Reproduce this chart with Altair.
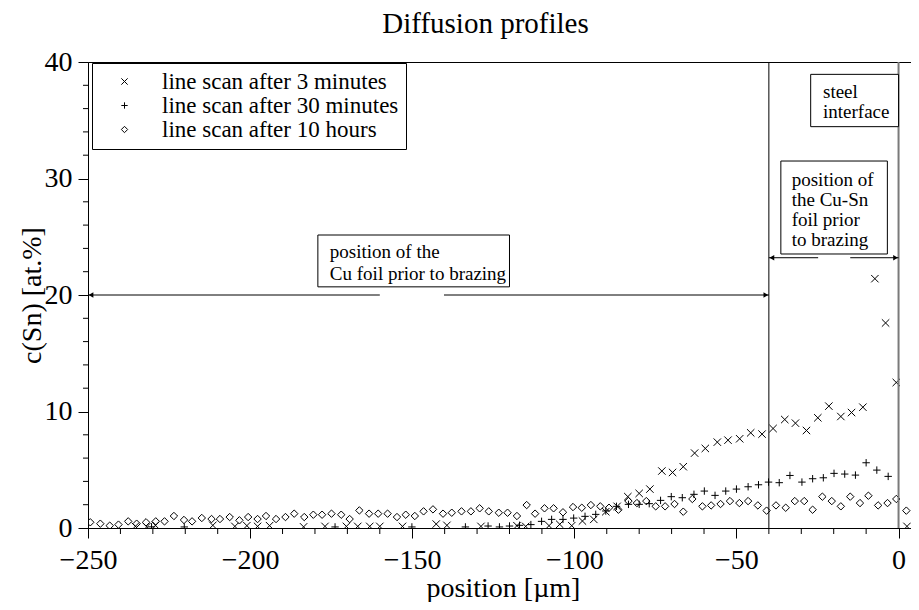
import altair as alt
import pandas as pd

FONT = "Liberation Serif"
TITLE = ["Diffusion profiles"]

SERIES = ["line scan after 3 minutes", "line scan after 30 minutes", "line scan after 10 hours"]
SHAPES = ["M-1,-1L1,1M-1,1L1,-1", "M-1,0H1M0,-1V1", "diamond"]

# line scan after 3 minutes (x markers)
x3 = [-235.4, -231.9, -229.2, -211.5, -204.7, -201.0, -197.7, -194.0, -183.5, -176.9,
      -170.3, -166.8, -163.1, -160.0, -153.0, -142.6, -139.3, -128.8, -117.7, -115.0,
      -107.8, -104.5, -100.8, -97.5, -94.0, -90.3, -86.8, -83.5, -80.0, -76.7,
      -73.0, -69.7, -66.4, -62.9, -59.6, -55.9, -52.6, -49.0, -45.6, -42.1,
      -38.7, -35.1, -31.8, -28.4, -24.9, -21.5, -17.8, -14.5, -11.0, -7.3,
      -4.0, -0.7, 2.6]
y3 = [0.14, 0.1, 0.23, 0.23, 0.14, 0.2, 0.14, 0.2, 0.1, 0.14,
      0.14, 0.14, 0.14, 0.14, 0.14, 0.34, 0.23, 0.14, 0.2, 0.14,
      0.2, 0.32, 0.2, 0.6, 0.74, 1.4, 1.86, 2.69, 2.97, 3.34,
      4.89, 4.77, 5.26, 6.43, 6.83, 7.37, 7.54, 7.66, 8.17, 8.06,
      8.54, 9.31, 9.0, 8.37, 9.46, 10.46, 9.57, 9.91, 10.37, 21.4,
      17.6, 12.49, 0.14]

# line scan after 30 minutes (+ markers)
x30 = [-230.4, -220.3, -173.8, -150.1, -133.6, -126.6, -123.1, -120.0, -116.9, -113.4,
       -110.1, -107.0, -103.5, -100.2, -96.7, -93.4, -90.3, -87.0, -83.3, -80.0,
       -76.9, -73.4, -70.1, -66.7, -63.1, -59.9, -56.6, -53.3, -50.0, -46.4,
       -43.2, -40.1, -36.8, -33.5, -29.8, -26.5, -23.2, -19.9, -16.6, -13.3,
       -10.0, -6.7, -3.2]
y30 = [0.1, 0.09, 0.09, 0.09, 0.09, 0.17, 0.09, 0.17, 0.23, 0.29,
       0.57, 0.74, 0.74, 0.85, 1.0, 1.17, 1.46, 1.86, 2.03, 2.03,
       2.09, 2.37, 2.69, 2.6, 2.89, 3.17, 2.8, 3.17, 3.34, 3.54,
       3.71, 3.94, 3.89, 4.51, 3.94, 4.23, 4.31, 4.69, 4.63, 4.54,
       5.6, 4.97, 4.43]

# line scan after 10 hours (diamonds)
x10 = [-249.3, -246.2, -243.3, -240.6, -237.6, -235.0, -232.1, -229.1, -226.4, -223.5,
       -220.4, -217.9, -214.9, -211.9, -209.3, -206.3, -203.3, -200.6, -197.7, -195.1,
       -192.0, -189.1, -186.4, -183.3, -180.5, -177.8, -174.9, -171.9, -169.3, -166.3,
       -163.3, -160.5, -157.6, -154.7, -152.0, -149.2, -146.5, -143.6, -140.5, -137.8,
       -134.8, -131.9, -129.2, -126.4, -123.3, -120.6, -117.7, -114.7, -112.1, -109.2,
       -106.4, -103.5, -100.4, -97.7, -94.9, -92.0, -89.3, -86.4, -83.3, -80.7,
       -77.8, -74.9, -72.0, -69.1, -66.4, -63.6, -60.5, -57.8, -54.9, -52.0,
       -49.1, -46.4, -43.4, -40.7, -37.8, -34.8, -32.0, -29.1, -26.5, -23.5,
       -20.6, -17.8, -14.9, -11.9, -9.3, -6.3, -3.4, -0.7, 2.4]
y10 = [0.49, 0.37, 0.2, 0.29, 0.57, 0.37, 0.49, 0.57, 0.57, 1.03,
       0.69, 0.57, 0.86, 0.77, 0.77, 0.94, 0.66, 0.94, 0.77, 1.03,
       0.77, 0.94, 1.23, 0.94, 1.14, 1.14, 1.23, 1.14, 0.77, 1.51,
       1.23, 1.23, 1.23, 0.94, 1.14, 1.03, 1.43, 1.6, 1.23, 1.31,
       1.43, 1.43, 1.69, 1.43, 1.31, 1.31, 1.03, 1.97, 1.23, 1.69,
       1.69, 1.35, 1.8, 1.74, 1.97, 1.86, 1.74, 1.57, 2.31, 2.14,
       2.31, 1.86, 1.86, 2.06, 1.4, 2.49, 1.86, 1.94, 2.06, 2.31,
       2.14, 2.31, 1.94, 1.49, 1.94, 1.74, 2.31, 2.31, 1.57, 2.69,
       2.31, 1.86, 2.69, 2.14, 2.77, 1.94, 2.14, 2.49, 1.49]

# axis ticks
X_MAJOR = [-250, -200, -150, -100, -50, 0]
X_MINOR = [v for v in range(-240, 0, 10) if v % 50 != 0]
Y_MAJOR = [0, 10, 20, 30, 40]
Y_MINOR = [v for v in range(2, 40, 2) if v % 10 != 0]

# annotations (data coordinates)
BOUNDARY_X = [-40]
STEEL_X = [0]
ARROW_Y = [20, 20, 23.2, 23.2]
ARROW_X1 = [-250, -140.2, -40, -14.9]
ARROW_X2 = [-160, -40, -24.8, 0]
HEAD_LEFT_X = [-250, -40]
HEAD_LEFT_Y = [20, 23.2]
HEAD_RIGHT_X = [-40, 0]
HEAD_RIGHT_Y = [20, 23.2]
BOX_X1 = [-179.1, -36.3, -27.1]
BOX_X2 = [-120.0, -3.45, 0]
BOX_Y1 = [25.15, 31.5, 38.94]
BOX_Y2 = [20.7, 23.52, 34.45]
BOX_TEXT = ["position of the\nCu foil prior to brazing",
            "position of\nthe Cu-Sn\nfoil prior\nto brazing",
            "steel\ninterface"]
TEXT_X = [-175.4, -32.95, -23.3]
TEXT_Y = [24.44, 30.67, 38.23]
TEXT_LH = [22, 20, 20]

rows = []
for name, xs, ys in zip(SERIES, [x3, x30, x10], [y3, y30, y10]):
    assert len(xs) == len(ys)
    rows += [{"series": name, "pos": a, "c": b} for a, b in zip(xs, ys)]
df = pd.DataFrame(rows)

xscale = alt.Scale(domain=[-250, 6], nice=False, zero=False)
yscale = alt.Scale(domain=[0, 40], nice=False, zero=False)

x_axis = alt.Axis(
    title="position [µm]", values=X_MAJOR, tickSize=10, labelPadding=8,
    labelFlush=False, labelOverlap=False, grid=False,
    titleY=68, titleBaseline="alphabetic",
)
y_axis = alt.Axis(
    title="c(Sn) [at.%]", values=Y_MAJOR, tickSize=10, labelPadding=6,
    labelFlush=False, labelOverlap=False, grid=False,
    titleX=-48, titleY=233, titleBaseline="alphabetic", titleAlign="center",
)

points = alt.Chart(df).mark_point(
    filled=False, color="black", strokeWidth=1, size=55, opacity=1, clip=True
).encode(
    x=alt.X("pos:Q", scale=xscale, axis=x_axis),
    y=alt.Y("c:Q", scale=yscale, axis=y_axis),
    shape=alt.Shape(
        "series:N",
        scale=alt.Scale(domain=SERIES, range=SHAPES),
        legend=alt.Legend(
            title=None, orient="none", legendX=4, legendY=1,
            strokeColor="black", fillColor="white", padding=7,
            symbolOffset=14, labelOffset=26, labelFont=FONT, labelFontSize=23,
            labelLimit=500, rowPadding=0, symbolSize=40,
            symbolStrokeColor="black", symbolStrokeWidth=1,
        ),
    ),
)

x_minor = alt.Chart(pd.DataFrame({"pos": X_MINOR})).mark_rule(
    color="black", strokeWidth=1, clip=False).encode(
    x=alt.X("pos:Q", scale=xscale), y=alt.value(466), y2=alt.value(472))
y_minor = alt.Chart(pd.DataFrame({"pos": Y_MINOR})).mark_rule(
    color="black", strokeWidth=1, clip=False).encode(
    y=alt.Y("pos:Q", scale=yscale), x=alt.value(0), x2=alt.value(-5))

bnd = alt.Chart(pd.DataFrame({"pos": BOUNDARY_X})).mark_rule(color="black", strokeWidth=1).encode(
    x=alt.X("pos:Q", scale=xscale))
steel = alt.Chart(pd.DataFrame({"pos": STEEL_X})).mark_rule(color="#7a7a7a", strokeWidth=2).encode(
    x=alt.X("pos:Q", scale=xscale))

arrows = alt.Chart(pd.DataFrame({"x1": ARROW_X1, "x2": ARROW_X2, "y": ARROW_Y})).mark_rule(
    color="black", strokeWidth=1).encode(
    x=alt.X("x1:Q", scale=xscale), x2="x2:Q", y=alt.Y("y:Q", scale=yscale))
head_l = alt.Chart(pd.DataFrame({"x": HEAD_LEFT_X, "y": HEAD_LEFT_Y})).mark_point(
    shape="triangle-left", filled=True, color="black", size=30, xOffset=3, opacity=1).encode(
    x=alt.X("x:Q", scale=xscale), y=alt.Y("y:Q", scale=yscale))
head_r = alt.Chart(pd.DataFrame({"x": HEAD_RIGHT_X, "y": HEAD_RIGHT_Y})).mark_point(
    shape="triangle-right", filled=True, color="black", size=30, xOffset=-3, opacity=1).encode(
    x=alt.X("x:Q", scale=xscale), y=alt.Y("y:Q", scale=yscale))

boxes = alt.Chart(pd.DataFrame({"x1": BOX_X1, "x2": BOX_X2, "y1": BOX_Y1, "y2": BOX_Y2})).mark_rect(
    fill="white", stroke="black", strokeWidth=1).encode(
    x=alt.X("x1:Q", scale=xscale), x2="x2:Q", y=alt.Y("y1:Q", scale=yscale), y2="y2:Q")

texts = []
for t, tx, ty, lh in zip(BOX_TEXT, TEXT_X, TEXT_Y, TEXT_LH):
    texts.append(
        alt.Chart(pd.DataFrame({"x": [tx], "y": [ty], "t": [t]})).mark_text(
            align="left", baseline="top", font=FONT, fontSize=19, color="black",
            lineBreak="\n", lineHeight=lh).encode(
            x=alt.X("x:Q", scale=xscale), y=alt.Y("y:Q", scale=yscale), text="t:N")
    )

title = alt.Chart(pd.DataFrame({"t": TITLE})).mark_text(
    font=FONT, fontSize=29, color="black", align="center", baseline="alphabetic").encode(
    text="t:N", x=alt.value(397.5), y=alt.value(-29))

chart = alt.layer(points, x_minor, y_minor, bnd, steel, arrows, head_l, head_r, boxes, *texts, title).properties(
    width=830, height=466,
    autosize=alt.AutoSizeParams(type="none"),
    padding={"left": 80, "top": 54, "right": -7, "bottom": 74},
).configure_view(stroke="black", strokeWidth=1).configure_axis(
    labelFont=FONT, labelFontSize=28, titleFont=FONT, titleFontSize=28, titleFontWeight="normal",
    labelColor="black", titleColor="black", domainColor="black", tickColor="black",
    domainWidth=1, tickWidth=1,
)

chart.save("out.html", embed_options={"renderer": "svg", "actions": False})
